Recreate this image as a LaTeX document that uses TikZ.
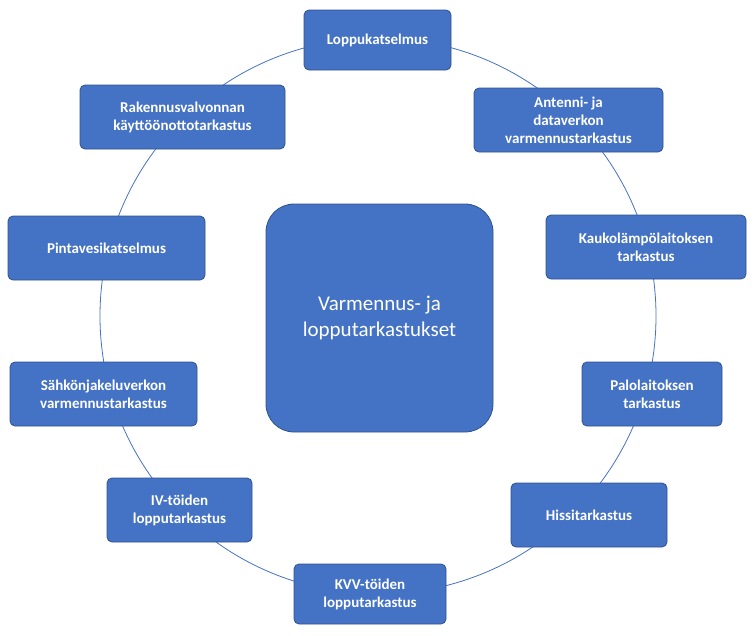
\documentclass[tikz,border=0pt]{standalone}
\usepackage{fontspec}
\setmainfont{Carlito}
\begin{document}
\begin{tikzpicture}[x=1pt,y=-1pt,
  bx/.style={draw=blue!40!black!70!blue, fill=boxblue, line width=0.8pt, rounded corners=5pt, text=white, font=\bfseries\fontsize{15}{18}\selectfont, align=center, inner sep=0pt}]
\definecolor{boxblue}{HTML}{4472C4}
\definecolor{edgeblue}{HTML}{2F528F}
\tikzset{bx/.append style={draw=edgeblue}}
\useasboundingbox (0,0) rectangle (754,635);
\draw[boxblue, line width=0.8pt] (378,316) circle (278);
\newcommand{\bxat}[6]{\node[bx, minimum width=#4-#2, minimum height=#5-#3] (#1) at ({(#2+#4)/2},{(#3+#5)/2}) {#6};}
\bxat{lop}{304}{10}{451}{70}{Loppukatselmus}
\bxat{ant}{474}{88}{663}{152}{Antenni- ja\\dataverkon\\varmennustarkastus}
\bxat{kau}{546}{215}{746}{279}{Kaukolämpölaitoksen\\tarkastus}
\bxat{pal}{582}{362}{722}{426}{Palolaitoksen\\tarkastus}
\bxat{his}{511}{483}{667}{547}{Hissitarkastus}
\bxat{kvv}{294}{564}{446}{624}{KVV-töiden\\lopputarkastus}
\bxat{iv}{107}{478}{252}{542}{IV-töiden\\lopputarkastus}
\bxat{sah}{10}{362}{197}{426}{Sähkönjakeluverkon\\varmennustarkastus}
\bxat{pin}{8}{216}{205}{280}{Pintavesikatselmus}
\bxat{rak}{80}{85}{285}{149}{Rakennusvalvonnan\\käyttöönottotarkastus}
\node[bx, rounded corners=28pt, minimum width=227, minimum height=228, font=\fontsize{21}{26}\selectfont] (c) at (379.5,318) {Varmennus- ja\\lopputarkastukset};
\end{tikzpicture}
\end{document}
